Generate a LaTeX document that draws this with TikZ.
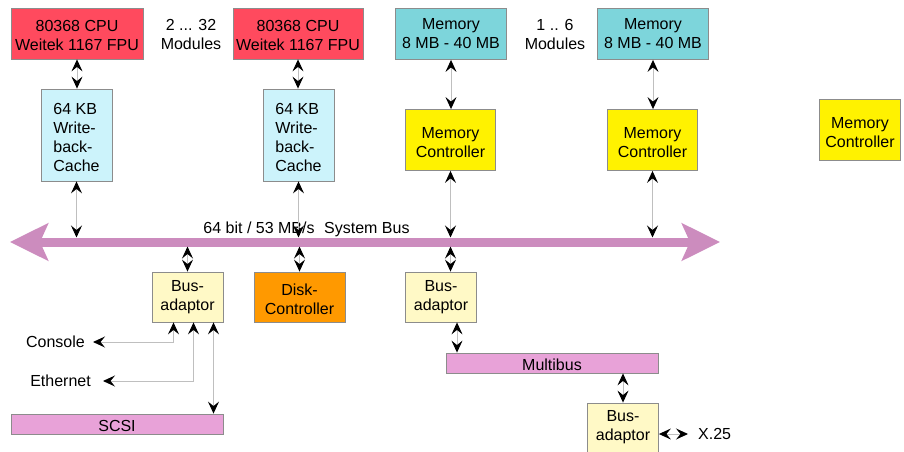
\documentclass[tikz,border=0pt]{standalone}
\usepackage{fontspec}
\setmainfont{Liberation Sans}
\usetikzlibrary{arrows.meta}
\definecolor{cpured}{HTML}{FF4A5E}
\definecolor{cachecyan}{HTML}{CCF3FB}
\definecolor{memteal}{HTML}{7DD5DB}
\definecolor{ctrlyellow}{HTML}{FFF200}
\definecolor{adaptyellow}{HTML}{FFF9C6}
\definecolor{diskorange}{HTML}{FF9900}
\definecolor{buspink}{HTML}{E8A2D8}
\definecolor{busmauve}{HTML}{CC8CBE}
\newcommand{\boxstrut}{\rule{0pt}{16pt}}

\tikzset{
  box/.style={draw=black!45, line width=0.8pt, inner sep=0pt, align=center, font=\fontsize{16}{19}\selectfont},
  conn/.style={draw=black!25, line width=1pt, >={Stealth[length=12pt,width=11pt,inset=4.5pt,color=black]}, <->},
  sysbus/.style={draw=busmauve, line width=9pt, {Stealth[length=38pt,width=37pt,inset=8pt]}-{Stealth[length=38pt,width=37pt,inset=8pt]}},
  txt/.style={font=\fontsize{16}{19}\selectfont, align=center, inner sep=0pt}
}

\begin{document}
\begin{tikzpicture}[x=1pt, y=-1pt]
\useasboundingbox (0,0) rectangle (904,452);

% processor modules
\node[box, fill=cpured, minimum width=132pt, minimum height=51pt] (cpu1) at (77,33.5) {\boxstrut80368 CPU\\Weitek 1167 FPU};
\node[box, fill=cpured, minimum width=130pt, minimum height=51pt] (cpu2) at (298,33.5) {\boxstrut80368 CPU\\Weitek 1167 FPU};
\node[txt] (cpucount) at (191,34.5) {2 ... 32\\Modules};
\node[box, fill=cachecyan, align=left, minimum width=71pt, minimum height=92pt] (cache1) at (76.5,135) {\boxstrut64 KB\\Write-\\back-\\Cache};
\node[box, fill=cachecyan, align=left, minimum width=71pt, minimum height=92pt] (cache2) at (298.5,135) {\boxstrut64 KB\\Write-\\back-\\Cache};

% memory modules
\node[box, fill=memteal, minimum width=111pt, minimum height=51pt] (mem1) at (451,34) {Memory\\8 MB - 40 MB};
\node[box, fill=memteal, minimum width=111pt, minimum height=51pt] (mem2) at (653,34) {Memory\\8 MB - 40 MB};
\node[txt] (memcount) at (555,34.5) {1 .. 6\\Modules};
\node[box, fill=ctrlyellow, minimum width=90pt, minimum height=61pt] (mc1) at (450.5,140) {\boxstrut Memory\\Controller};
\node[box, fill=ctrlyellow, minimum width=90pt, minimum height=61pt] (mc2) at (652.5,140) {\boxstrut Memory\\Controller};
\node[box, fill=ctrlyellow, minimum width=81pt, minimum height=61pt] (mc3) at (860,130) {\boxstrut Memory\\Controller};

% system bus
\coordinate (busw) at (10,242);
\coordinate (buse) at (720,242);
\coordinate (bustop) at (0,237.5);
\coordinate (busbot) at (0,246.5);
\draw[sysbus] (busw) -- (buse);
\node[txt] (buslabel) at (306.5,229.5) {64 bit / 53 MB/s\hspace{0.6em}System Bus};

% i/o side
\node[box, fill=adaptyellow, minimum width=71pt, minimum height=50pt] (ba1) at (187.5,297) {Bus-\\adaptor};
\node[box, fill=diskorange, minimum width=91pt, minimum height=50pt] (disk) at (299.5,297) {\boxstrut Disk-\\Controller};
\node[box, fill=adaptyellow, minimum width=71pt, minimum height=50pt] (ba2) at (441,297) {Bus-\\adaptor};
\node[box, fill=buspink, minimum width=212pt, minimum height=20pt] (mbus) at (552,363) {\boxstrut Multibus};
\node[box, fill=adaptyellow, minimum width=71pt, minimum height=49pt] (ba3) at (623,427.5) {Bus-\\adaptor};
\node[box, fill=buspink, minimum width=212pt, minimum height=20pt] (scsi) at (117,424) {\boxstrut SCSI};
\node[txt, anchor=east] (console) at (85,342) {Console};
\node[txt, anchor=east] (ether) at (91,381) {Ethernet};
\node[txt, anchor=west] (x25) at (698,434) {X.25};

% connectors
\draw[conn] (cpu1.south) -- (cpu1.south |- cache1.north);
\draw[conn] (cpu2.south) -- (cpu2.south |- cache2.north);
\draw[conn] (cache1.south) -- (cache1.south |- bustop);
\draw[conn] (cache2.south) -- (cache2.south |- bustop);
\draw[conn] (mem1.south) -- (mem1.south |- mc1.north);
\draw[conn] (mem2.south) -- (mem2.south |- mc2.north);
\draw[conn] (mc1.south) -- (mc1.south |- bustop);
\draw[conn] (mc2.south) -- (mc2.south |- bustop);
\draw[conn] (ba1.north |- busbot) -- (ba1.north);
\draw[conn] (disk.north |- busbot) -- (disk.north);
\draw[conn] (mc1.south |- busbot) -- (mc1.south |- ba2.north);
\coordinate (ba2out) at ([xshift=16pt]ba2.south);
\draw[conn] (ba2out) -- (ba2out |- mbus.north);
\draw[conn] (mbus.south -| ba3.north) -- (ba3.north);
\draw[conn] (ba3.east |- x25.west) -- ([xshift=-10pt]x25.west);
\coordinate (ba1con) at ([xshift=-14pt]ba1.south);
\coordinate (ba1eth) at ([xshift=6pt]ba1.south);
\coordinate (ba1scsi) at ([xshift=26pt]ba1.south);
\draw[conn] (ba1con) |- ([xshift=8pt]console.east);
\draw[conn] (ba1eth) |- ([xshift=12pt]ether.east);
\draw[conn] (ba1scsi) -- (ba1scsi |- scsi.north);
\end{tikzpicture}
\end{document}
